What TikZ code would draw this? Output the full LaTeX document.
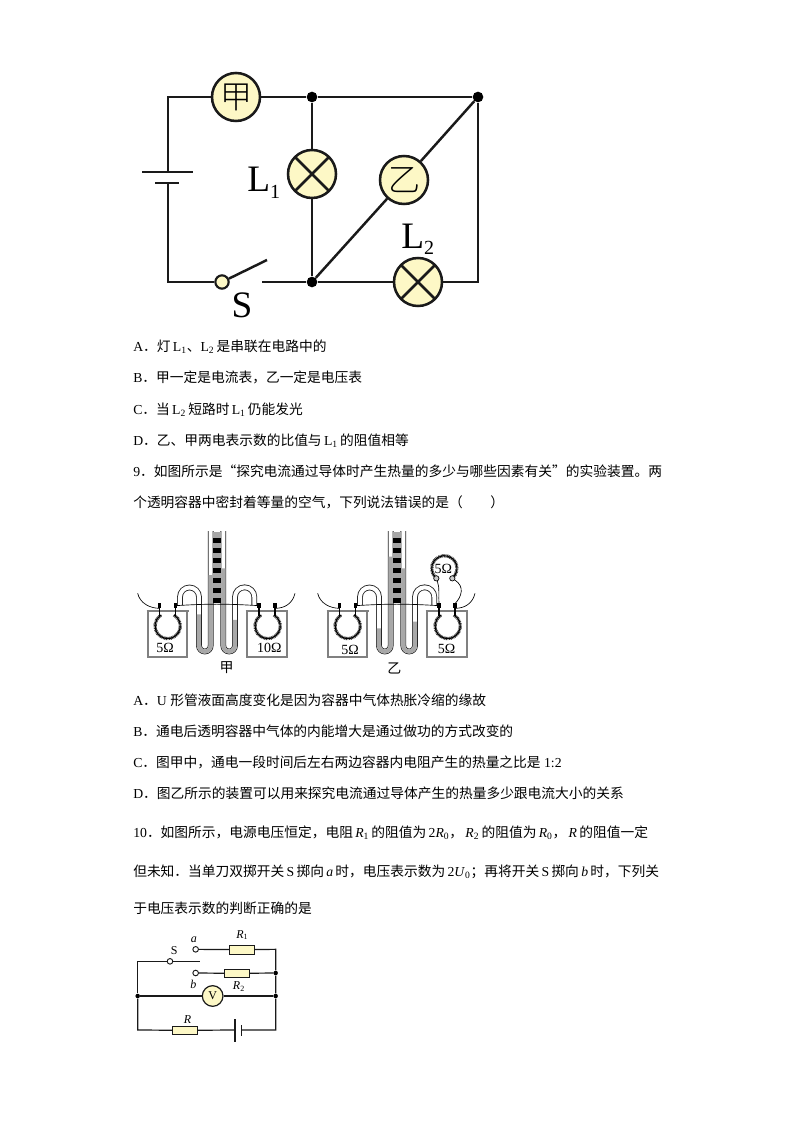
\documentclass[tikz,border=0pt]{standalone}
\usepackage{fontspec}
\setmainfont{Liberation Serif}
\newfontfamily\cjk{Noto Sans CJK SC}
\newfontfamily\cjkl{Noto Sans CJK SC Light}
\newcommand{\zh}[1]{{\cjk #1}}
\newcommand{\sub}[1]{\textsubscript{#1}}
\newcommand{\bigsub}[1]{\raisebox{-5pt}{\fontsize{15}{15}\selectfont #1}}
\definecolor{pale}{HTML}{FDF8C6}
\definecolor{wire}{HTML}{1A1A1A}
\definecolor{liquid}{HTML}{A8A8A8}
\tikzset{
  line/.style={draw=wire,line width=1.85pt},
  thinline/.style={draw=wire,line width=0.9pt},
  meter/.style={circle,draw=wire,line width=1.9pt,fill=pale,minimum size=36pt,inner sep=0pt},
  lamp/.style={meter,path picture={
     \draw[line width=1.9pt,draw=wire] (path picture bounding box.north west)--(path picture bounding box.south east);
     \draw[line width=1.9pt,draw=wire] (path picture bounding box.south west)--(path picture bounding box.north east);}},
  dotj/.style={circle,fill=black,inner sep=0pt,minimum size=8pt},
  dots/.style={circle,fill=black,inner sep=0pt,minimum size=3.4pt},
  txt/.style={anchor=base west,inner sep=0pt,font=\fontsize{10.3}{12}\selectfont},
  res/.style={rectangle,draw=wire,line width=0.7pt,fill=pale,minimum width=18.5pt,minimum height=6.5pt,inner sep=0pt},
  term/.style={circle,draw=wire,line width=0.7pt,fill=white,minimum size=4.2pt,inner sep=0pt},
  glass/.style={draw=black!50,line width=1.5pt},
  coil/.style={draw=black!75,line width=2.4pt,dash pattern=on 0.6pt off 0.5pt},
  coilcore/.style={draw=black,line width=0.8pt},
  lab/.style={inner sep=0pt},
}
% #1 left-arm level, #2 centre-left level, #3 centre-right level, #4 right-arm level
\newcommand{\apparatus}[4]{%
  \draw[line width=4.3pt,draw=black!85] (165,240)--(165,216) arc(180:360:28.5)--(222,362) arc(180:0:17.5)--(257,18);
  \draw[line width=3pt,draw=white] (165,242)--(165,216) arc(180:360:28.5)--(222,362) arc(180:0:17.5)--(257,16);
  \draw[line width=4.3pt,draw=black!85] (388,240)--(388,216) arc(360:180:29)--(330,362) arc(0:180:17.5)--(295,18);
  \draw[line width=3pt,draw=white] (388,242)--(388,216) arc(360:180:29)--(330,362) arc(0:180:17.5)--(295,16);
  \draw[line width=3pt,draw=liquid] (222,#1)--(222,362) arc(180:0:17.5)--(257,#2);
  \draw[line width=3pt,draw=liquid] (330,#4)--(330,362) arc(0:180:17.5)--(295,#3);
  \fill[black!35] (265,22) rectangle (288,232);
  \foreach \yy in {38,68,98,130,160,190,218}{\fill[black] (265,\yy) rectangle (288,\yy+15);}
  \foreach \xa/\xb in {70/187,367/485}{%
    \draw[glass] (\xa,257)--(\xa,395)--(\xb,395)--(\xb,257);
    \draw[glass] (\xa-5,257)--(\xb+5,257);
  }
  \foreach \cx/\ta/\tb in {128/104/152,428/402/450}{%
    \draw[coil] (\cx,303) ++(300:38) arc(300:600:38);
    \draw[coilcore] (\cx,303) ++(300:38) arc(300:600:38);
    \draw[line width=0.8pt] (\ta,250)--(\ta,272);
    \draw[line width=0.8pt] (\tb,250)--(\tb,272);
    \fill[black] (\ta-5,234) rectangle (\ta+5,250);
    \fill[black] (\tb-5,234) rectangle (\tb+5,250);
  }
  \draw[line width=0.5pt] (152,242) .. controls (250,236) and (300,236) .. (402,242);
  \draw[line width=0.5pt] (38,205) .. controls (45,235) and (75,250) .. (104,250);
  \draw[line width=0.5pt] (510,205) .. controls (503,235) and (480,250) .. (450,250);
}
\begin{document}
\begin{tikzpicture}[x=0.75pt,y=-0.75pt]
\useasboundingbox (0,0) rectangle (794,1123);
\fill[white] (0,0) rectangle (794,1123);

% ---------- circuit 1
\coordinate (tl) at (168,97);
\coordinate (bl) at (168,282);
\coordinate (br) at (478,282);
\coordinate (batA) at (168,172);
\coordinate (batB) at (168,183);
\coordinate (batAl) at (142,172);
\coordinate (batAr) at (193,172);
\coordinate (batBl) at (155,183);
\coordinate (batBr) at (179,183);
\coordinate (lever) at (267,260);
\coordinate (contact) at (262,282);
\node[dotj] (j1) at (312,97) {};
\node[dotj] (j2) at (478,97) {};
\node[dotj] (j3) at (312,282) {};
\node[meter,font=\fontsize{24}{24}\cjkl] (jia) at (236,97) {甲};
\node[lamp] (L1) at (312,174) {};
\node[meter,font=\fontsize{24}{24}\cjkl] (yi) at (404,180) {乙};
\node[lamp] (L2) at (418,282) {};
\node[circle,draw=wire,line width=1.6pt,fill=pale,minimum size=10pt,inner sep=0pt] (sw) at (222,282) {};
\draw[line] (batA)--(tl)--(jia);
\draw[line] (jia)--(j1);
\draw[line] (j1)--(j2);
\draw[line] (j1)--(L1);
\draw[line] (L1)--(j3);
\draw[line] (j2)--(yi);
\draw[line] (yi)--(j3);
\draw[line] (j3)--(L2);
\draw[line] (L2)--(br)--(j2);
\draw[line] (contact)--(j3);
\draw[line] (batB)--(bl)--(sw);
\draw[line] (sw)--(lever);
\draw[line] (batAl)--(batAr);
\draw[line] (batBl)--(batBr);
\node[lab,anchor=base west,font=\fontsize{28}{28}\selectfont] (tL1) at (247,192) {L\bigsub{1}};
\node[lab,anchor=base west,font=\fontsize{28}{28}\selectfont] (tL2) at (401,248) {L\bigsub{2}};
\node[lab,font=\fontsize{28}{28}\selectfont] (tS) at (242,305) {S};

% ---------- text block 1
\node[txt] (t1) at (133,351) {A\zh{．灯}\,L\sub{1}\zh{、}L\sub{2}\,\zh{是串联在电路中的}};
\node[txt] (t2) at (133,382) {B\zh{．甲一定是电流表，乙一定是电压表}};
\node[txt] (t3) at (133,414) {C\zh{．当}\,L\sub{2}\,\zh{短路时}\,L\sub{1}\,\zh{仍能发光}};
\node[txt] (t4) at (133,445) {D\zh{．乙、甲两电表示数的比值与}\,L\sub{1}\,\zh{的阻值相等}};
\node[txt] (t5) at (133,476) {9\zh{．如图所示是“探究电流通过导体时产生热量的多少与哪些因素有关”的实验装置。两}};
\node[txt] (t6) at (133,507) {\zh{个透明容器中密封着等量的空气，下列说法错误的是（　　）}};

% ---------- apparatus
\begin{scope}[shift={(125,525)},scale=0.3333,name prefix=a-]
\apparatus{268}{150}{130}{285}
\node[lab,font=\fontsize{10.5}{10.5}\selectfont] (r1) at (120,368) {5Ω};
\node[lab,font=\fontsize{10.5}{10.5}\selectfont] (r2) at (433,370) {10Ω};
\node[lab,font=\fontsize{10.5}{10.5}\cjk] (cap) at (305,428) {甲};
\end{scope}
\begin{scope}[shift={(305,525)},scale=0.3333,name prefix=b-]
\apparatus{310}{95}{130}{290}
\node[lab,font=\fontsize{10.5}{10.5}\selectfont] (r1) at (135,375) {5Ω};
\node[lab,font=\fontsize{10.5}{10.5}\selectfont] (r2) at (425,372) {5Ω};
\node[lab,font=\fontsize{10.5}{10.5}\cjk] (cap) at (268,430) {乙};
\draw[coil] (418,130) ++(129:38) arc(129:411:38);
\draw[coilcore] (418,130) ++(129:38) arc(129:411:38);
\node[lab,font=\fontsize{10.5}{10.5}\selectfont] (r3) at (415,131) {5Ω};
\node[circle,draw=black,line width=0.5pt,fill=black!20,minimum size=4pt,inner sep=0pt] (u1) at (394,160) {};
\node[circle,draw=black,line width=0.5pt,fill=black!20,minimum size=4pt,inner sep=0pt] (u2) at (442,160) {};
\coordinate (v1) at (402,236);
\coordinate (v2) at (450,236);
\draw[line width=0.5pt] (u1) .. controls (405,190) and (400,215) .. (v1);
\draw[line width=0.5pt] (u2) .. controls (480,185) and (470,215) .. (v2);
\end{scope}

% ---------- text block 2
\node[txt] (t7) at (133,705) {A\zh{．}U \zh{形管液面高度变化是因为容器中气体热胀冷缩的缘故}};
\node[txt] (t8) at (133,736) {B\zh{．通电后透明容器中气体的内能增大是通过做功的方式改变的}};
\node[txt] (t9) at (133,767) {C\zh{．图甲中，通电一段时间后左右两边容器内电阻产生的热量之比是} 1:2};
\node[txt] (t10) at (133,798) {D\zh{．图乙所示的装置可以用来探究电流通过导体产生的热量多少跟电流大小的关系}};
\node[txt] (t11) at (133,837) {10\zh{．如图所示，电源电压恒定，电阻}\,\textit{R}\sub{1}\,\zh{的阻值为}\,2\textit{R}\sub{0}\zh{，}\,\textit{R}\sub{2}\,\zh{的阻值为}\,\textit{R}\sub{0}\zh{，}\,\textit{R}\,\zh{的阻值一定}};
\node[txt] (t12) at (133,876) {\zh{但未知．当单刀双掷开关}\,S\,\zh{掷向}\,\textit{a}\,\zh{时，电压表示数为}\,2\textit{U}\sub{0}\zh{；再将开关}\,S\,\zh{掷向}\,\textit{b}\,\zh{时，下列关}};
\node[txt] (t13) at (133,913) {\zh{于电压表示数的判断正确的是}};

% ---------- circuit 3
\begin{scope}[shift={(125,920)},scale=0.3333]
\coordinate (c-l1) at (38,124);
\coordinate (c-l2) at (38,330);
\coordinate (c-r1) at (452,88);
\coordinate (c-r2) at (452,330);
\coordinate (c-lev) at (225,124);
\coordinate (c-bt1) at (330,298);
\coordinate (c-bt2) at (330,365);
\coordinate (c-bs1) at (349,315);
\coordinate (c-bs2) at (349,347);
\coordinate (c-ba) at (330,330);
\coordinate (c-bb) at (349,330);
\node[dots] (c-j1) at (38,228) {};
\node[dots] (c-j2) at (452,159) {};
\node[dots] (c-j3) at (452,228) {};
\node[term] (c-s) at (135,124) {};
\node[term] (c-a) at (212,88) {};
\node[term] (c-b) at (212,159) {};
\node[res] (c-R1) at (350,89) {};
\node[res] (c-R2) at (336,160) {};
\node[res] (c-R) at (180,331) {};
\node[circle,draw=wire,line width=0.9pt,fill=pale,minimum size=15.5pt,inner sep=0pt,font=\fontsize{9}{9}\selectfont] (c-V) at (263,228) {V};
\draw[thinline] (c-j1)--(c-l1)--(c-s);
\draw[thinline] (c-s)--(c-lev);
\draw[thinline] (c-a)--(c-R1);
\draw[thinline] (c-R1)--(c-r1)--(c-j2);
\draw[thinline] (c-b)--(c-R2);
\draw[thinline] (c-R2)--(c-j2);
\draw[thinline] (c-j2)--(c-j3);
\draw[thinline] (c-j1)--(c-V);
\draw[thinline] (c-V)--(c-j3);
\draw[thinline] (c-j3)--(c-r2)--(c-bb);
\draw[thinline] (c-j1)--(c-l2)--(c-R);
\draw[thinline] (c-R)--(c-ba);
\draw[thinline] (c-bt1)--(c-bt2);
\draw[thinline] (c-bs1)--(c-bs2);
\node[lab,font=\fontsize{9}{9}\selectfont] (c-tS) at (148,93) {S};
\node[lab,font=\fontsize{9}{9}\itshape] (c-ta) at (207,58) {a};
\node[lab,font=\fontsize{9}{9}\selectfont] (c-tR1) at (352,45) {\textit{R}\sub{1}};
\node[lab,font=\fontsize{9}{9}\itshape] (c-tb) at (205,193) {b};
\node[lab,font=\fontsize{9}{9}\selectfont] (c-tR2) at (342,200) {\textit{R}\sub{2}};
\node[lab,font=\fontsize{9}{9}\itshape] (c-tR) at (188,300) {R};
\end{scope}
\end{tikzpicture}
\end{document}
